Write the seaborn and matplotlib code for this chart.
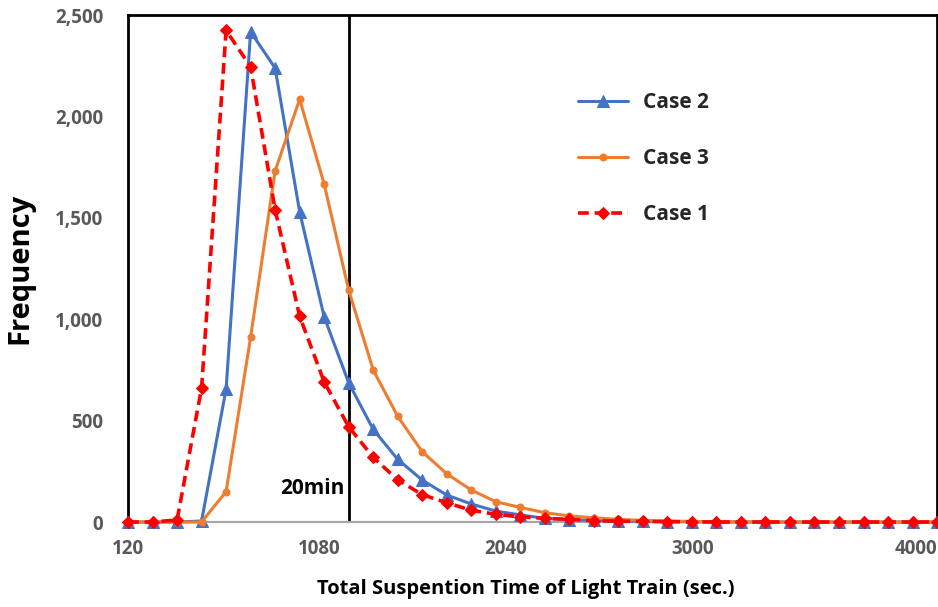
import matplotlib
matplotlib.use("Agg")
import matplotlib.pyplot as plt
import numpy as np
import pandas as pd
import seaborn as sns
from matplotlib.ticker import FuncFormatter

# suspension time bins (sec.), one every 120 s
time_sec = [120 + 120 * k for k in range(34)]

case2 = [0, 0, 0, 5, 656, 2418, 2239, 1530, 1012, 687, 457, 309, 207, 133, 89, 54,
         35, 18, 12, 8, 5, 3, 2, 1, 0, 0, 0, 0, 0, 0, 0, 0, 0, 0]
case3 = [0, 0, 0, 0, 150, 912, 1732, 2085, 1667, 1144, 750, 521, 347, 238, 158, 100,
         72, 46, 30, 21, 13, 8, 5, 3, 2, 1, 0, 0, 0, 0, 0, 0, 0, 0]
case1 = [0, 0, 10, 661, 2425, 2245, 1540, 1015, 691, 470, 319, 208, 135, 95, 58, 38,
         25, 18, 13, 7, 4, 3, 2, 1, 0, 0, 0, 0, 0, 0, 0, 0, 0, 0]

xtick_labels = ["120", "1080", "2040", "3000", "4000"]
xtick_pos = [120, 1055, 1966, 2882, 3975]
yticks = [0, 500, 1000, 1500, 2000, 2500]
limit_sec = 1200

sns.set_style("white")
plt.rcParams["font.family"] = ["Open Sans", "DejaVu Sans"]

fig = plt.figure(figsize=(9.38, 6.07), dpi=100)
ax = fig.add_axes([0.1365, 0.140, 0.8625, 0.835])

series = [
    ("Case 2", case2, "#4472C4", "^", 8, "-", 2.2),
    ("Case 3", case3, "#ED7D31", "o", 5, "-", 2.2),
    ("Case 1", case1, "#FF0000", "D", 6, (0, (3, 1.6)), 2.6),
]
for name, vals, color, marker, ms, ls, lw in series:
    df = pd.DataFrame({"t": time_sec, "f": vals})
    sns.lineplot(data=df, x="t", y="f", ax=ax, color=color, marker=marker,
                 markersize=ms, markeredgecolor=color, linestyle=ls,
                 linewidth=lw, label=name, clip_on=False, zorder=3)

ax.axvline(limit_sec, color="black", lw=2, zorder=2)
ax.text(limit_sec - 20, 163, "20min", ha="right", va="center",
        fontsize=15, fontweight="bold", color="black")

ax.set_xlim(time_sec[0], time_sec[-1])
ax.set_ylim(0, 2500)
ax.set_yticks(yticks)
ax.yaxis.set_major_formatter(FuncFormatter(lambda v, p: f"{int(v):,}"))
ax.set_xticks(xtick_pos)
ax.set_xticklabels(xtick_labels)
ax.tick_params(axis="y", length=0, pad=18, labelsize=13.5, labelcolor="#595959")
ax.tick_params(axis="x", length=0, pad=12, labelsize=13.5, labelcolor="#595959")
for lab in ax.get_xticklabels() + ax.get_yticklabels():
    lab.set_fontweight("bold")

for side in ["left", "top", "right"]:
    ax.spines[side].set_color("black")
    ax.spines[side].set_linewidth(2)
ax.spines["bottom"].set_color("#a6a6a6")
ax.spines["bottom"].set_linewidth(1.6)

ax.set_ylabel("Frequency", fontsize=21, fontweight="bold", color="black")
ax.yaxis.set_label_coords(-0.116, 0.5)
ax.set_xlabel("Total Suspention Time of Light Train (sec.)", fontsize=14.5,
              fontweight="bold", color="black")
ax.xaxis.set_label_coords(0.491, -0.112)

leg = ax.legend(loc="upper left", bbox_to_anchor=(0.533, 0.885), frameon=False,
                handlelength=2.4, labelspacing=1.68, handletextpad=0.7,
                prop={"size": 15, "weight": "bold"})

fig.savefig("out.png", dpi=100)
